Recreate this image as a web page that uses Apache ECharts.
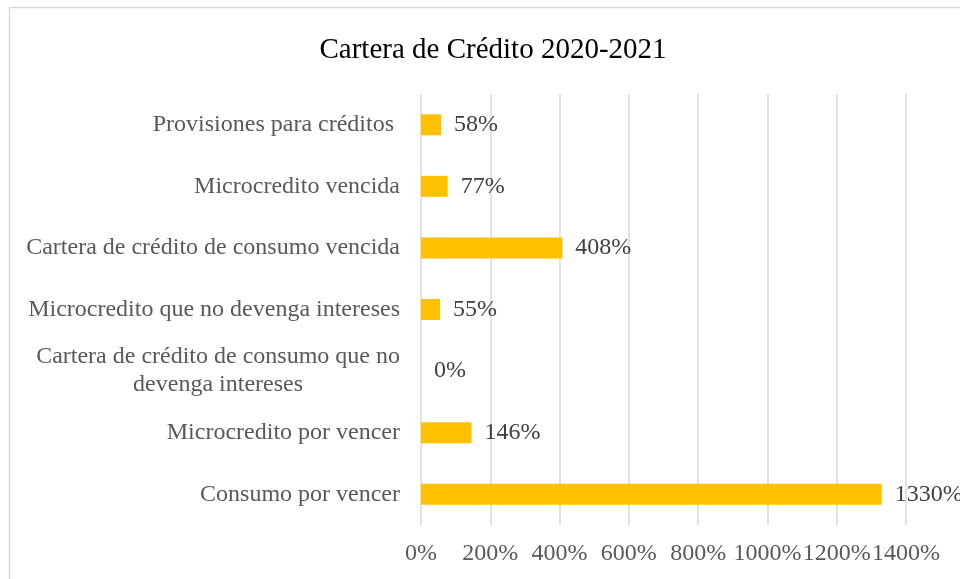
<!DOCTYPE html>
<html>
<head>
<meta charset="utf-8">
<script src="https://cdn.jsdelivr.net/npm/echarts@6/dist/echarts.min.js"></script>
<style>
  html, body { margin: 0; padding: 0; background: #fff; }
  #chart { width: 960px; height: 579px; }
</style>
</head>
<body>
<div id="chart"></div>
<script>
// Categories, listed bottom to top as the y axis draws them
const categories = [
  'Consumo por vencer',
  'Microcredito por vencer',
  'Cartera de crédito de consumo que no\ndevenga intereses',
  'Microcredito que no devenga intereses',
  'Cartera de crédito de consumo vencida',
  'Microcredito vencida',
  'Provisiones para créditos '
];
// Percentage change 2020-2021
const values = [1330, 146, 0, 55, 408, 77, 58];
const axisMax = 1400;
const axisStep = 200;

const serif = '"Liberation Serif", "Times New Roman", serif';
const chart = echarts.init(document.getElementById('chart'), null, { renderer: 'canvas' });

chart.setOption({
  animation: false,
  backgroundColor: '#ffffff',
  graphic: [{
    type: 'rect',
    shape: { x: 9.5, y: 7.5, width: 1000, height: 620 },
    style: { fill: 'none', stroke: '#d9d9d9', lineWidth: 1.5 },
    silent: true,
    z: -1
  }],
  title: {
    text: 'Cartera de Crédito 2020-2021',
    left: 488,
    top: 31,
    textAlign: 'center',
    textStyle: { fontFamily: serif, fontSize: 29, fontWeight: 'normal', color: '#000000' }
  },
  grid: { left: 421, right: 54, top: 94, bottom: 54, containLabel: false },
  xAxis: {
    type: 'value',
    min: 0,
    max: axisMax,
    interval: axisStep,
    axisLine: { show: false },
    axisTick: { show: false },
    axisLabel: {
      formatter: v => v + '%',
      fontFamily: serif,
      fontSize: 24,
      color: '#595959',
      margin: 17
    },
    splitLine: { show: true, lineStyle: { color: '#d9d9d9', width: 1.5 } }
  },
  yAxis: {
    type: 'category',
    data: categories,
    axisLine: { show: false },
    axisTick: { show: false },
    axisLabel: {
      // block sits right-aligned against the plot, wrapped lines centred within it
      formatter: v => v.split('\n').map(line => '{c|' + line + '}').join('\n'),
      fontFamily: serif,
      fontSize: 24,
      color: '#595959',
      margin: 21,
      align: 'right',
      rich: {
        c: {
          align: 'center',
          fontFamily: serif,
          fontSize: 24,
          color: '#595959',
          lineHeight: 28
        }
      }
    }
  },
  series: [{
    type: 'bar',
    data: values,
    barWidth: 21,
    itemStyle: { color: '#FFC000' },
    label: {
      show: true,
      position: 'right',
      distance: 13,
      formatter: p => p.value + '%',
      fontFamily: serif,
      fontSize: 24,
      color: '#404040'
    }
  }]
});
</script>
</body>
</html>
